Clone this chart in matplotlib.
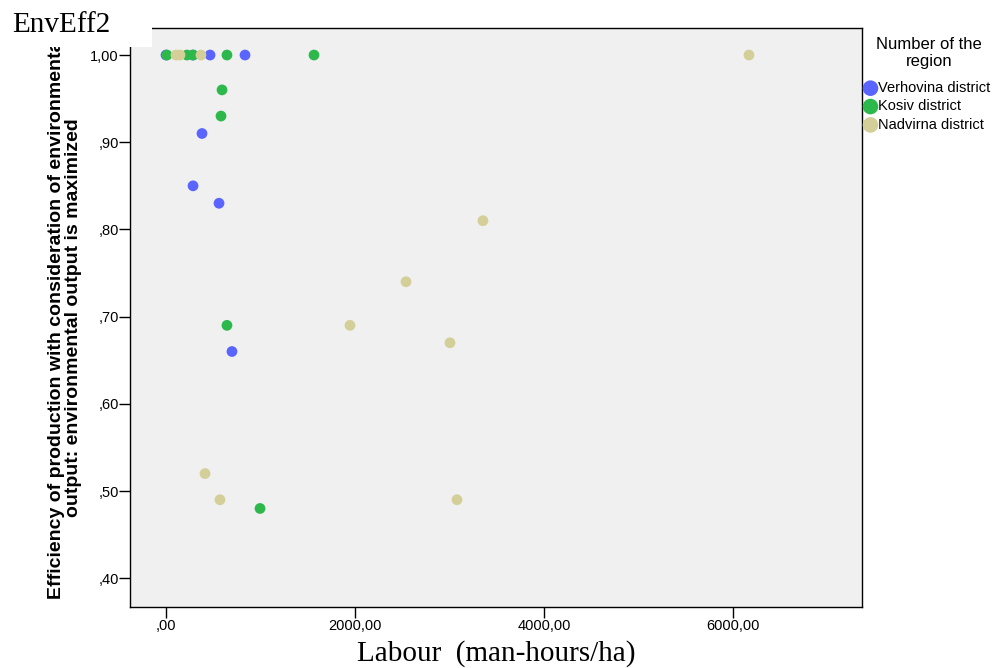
import matplotlib
matplotlib.use('Agg')
import matplotlib.pyplot as plt
from matplotlib.patches import Rectangle
from matplotlib.ticker import FuncFormatter

# data
regions = ['Verhovina district', 'Kosiv district', 'Nadvirna district']
colors = ['#5A64FE', '#2DB84B', '#D4CF98']

verh_x = [0, 286, 466, 836, 381, 286, 561, 698]
verh_y = [1.00, 1.00, 1.00, 1.00, 0.91, 0.85, 0.83, 0.66]

kos_x = [10, 222, 286, 645, 1566, 593, 582, 645, 995]
kos_y = [1.00, 1.00, 1.00, 1.00, 1.00, 0.96, 0.93, 0.69, 0.48]

nad_x = [106, 148, 370, 6169, 3354, 2540, 1947, 3005, 413, 571, 3079]
nad_y = [1.00, 1.00, 1.00, 1.00, 0.81, 0.74, 0.69, 0.67, 0.52, 0.49, 0.49]

x_ticks = [0, 2000, 4000, 6000]
y_ticks = [0.40, 0.50, 0.60, 0.70, 0.80, 0.90, 1.00]

W, H = 997, 668
fig = plt.figure(figsize=(W / 100, H / 100), dpi=100)
ax = fig.add_axes([130 / W, 1 - 607 / H, (862 - 130) / W, (607 - 28) / H])
ax.set_facecolor('#F0F0F0')

series = [(verh_x, verh_y), (kos_x, kos_y), (nad_x, nad_y)]
for (xs, ys), c, name in zip(series, colors, regions):
    ax.scatter(xs, ys, s=60, color=c, edgecolors='none', label=name, zorder=3)

ax.set_xlim(-381, 7365)
ax.set_ylim(0.367, 1.031)
ax.set_xticks(x_ticks)
ax.set_yticks(y_ticks)


def comma_fmt(v, pos):
    s = '{:.2f}'.format(v).replace('.', ',')
    if s.startswith('0,'):
        s = s[1:]
    return s


ax.xaxis.set_major_formatter(FuncFormatter(comma_fmt))
ax.yaxis.set_major_formatter(FuncFormatter(comma_fmt))
ax.tick_params(direction='out', length=8, width=1, color='black')
ax.tick_params(axis='y', labelsize=10.5, pad=0)
ax.tick_params(axis='x', labelsize=10.5, pad=1)
for lab in ax.get_xticklabels() + ax.get_yticklabels():
    lab.set_family('Liberation Sans')
for sp in ax.spines.values():
    sp.set_color('black')
    sp.set_linewidth(1)

ax.set_xlabel('Labour  (man-hours/ha)', family='Liberation Serif',
              fontsize=21, labelpad=5)
ax.set_ylabel('Efficiency of production with consideration of environmental\n'
              'output: environmental output is maximized',
              family='Liberation Sans', fontweight='bold', fontsize=14,
              labelpad=6, linespacing=1.0)

# legend: title as its own text, entries below it
fig.text(929 / W, 1 - 53 / H, 'Number of the\nregion', family='Liberation Sans',
         fontsize=12, ha='center', va='center', linespacing=1.15)
fig.legend(loc='upper left', bbox_to_anchor=(861 / W, 1 - 81 / H),
           frameon=False, prop={'family': 'Liberation Sans', 'size': 10.5},
           markerscale=1.45, handletextpad=-0.1, labelspacing=0.3,
           borderaxespad=0, borderpad=0, handlelength=1.3)

# white box behind the title, covering the top-left corner
fig.add_artist(Rectangle((0, 1 - 47 / H), 152 / W, 47 / H,
                         transform=fig.transFigure, facecolor='white',
                         edgecolor='none', zorder=10))
fig.text(12 / W, 1 - 25 / H, 'EnvEff2', family='Liberation Serif',
         fontsize=21, va='center', ha='left', zorder=11)

fig.savefig('out.png', dpi=100)
